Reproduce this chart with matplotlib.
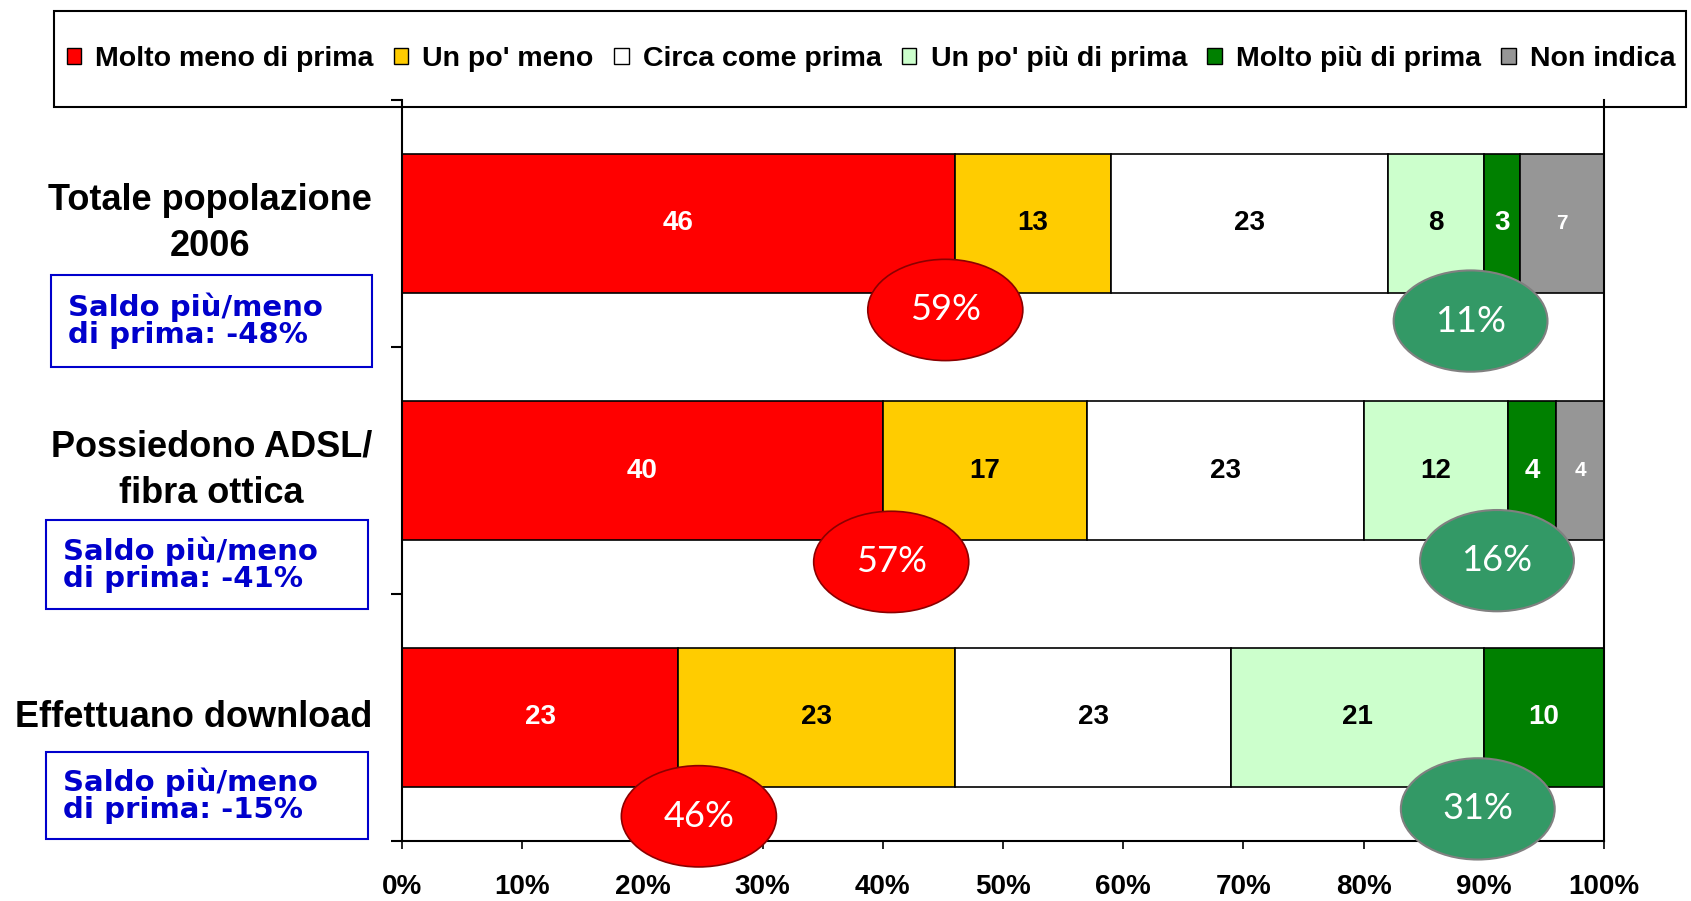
import numpy as np
import matplotlib
matplotlib.use('Agg')
import matplotlib.pyplot as plt
from matplotlib.patches import Ellipse, Rectangle, Patch
from matplotlib.transforms import blended_transform_factory

# data
categories = ['Totale popolazione\n2006', 'Possiedono ADSL/\nfibra ottica', 'Effettuano download']
series_names = ['Molto meno di prima', "Un po' meno", 'Circa come prima',
                "Un po' più di prima", 'Molto più di prima', 'Non indica']
molto_meno = [46, 40, 23]
un_po_meno = [13, 17, 23]
circa_come = [23, 23, 23]
un_po_piu = [8, 12, 21]
molto_piu = [3, 4, 10]
non_indica = [7, 4, 0]
x_ticks = list(range(0, 101, 10))

series = [molto_meno, un_po_meno, circa_come, un_po_piu, molto_piu, non_indica]
colors = ['#FF0000', '#FFCC00', '#FFFFFF', '#CCFFCC', '#008000', '#969696']
text_colors = ['white', 'black', 'black', 'black', 'white', 'white']
label_sizes = [20, 20, 20, 20, 20, 15]

# small layout nudges for the ellipses (relative to segment boundaries)
meno_dx = [-0.8, 0.7, 1.7]
meno_dy = [0.35, 0.37, 0.40]
piu_dx = [-1.1, -0.9, -0.5]
piu_dy = [0.395, 0.365, 0.37]

plt.rcParams['font.family'] = ['Liberation Sans', 'DejaVu Sans']

W, H = 1691, 901
fig = plt.figure(figsize=(W / 100, H / 100), dpi=100)
ax = fig.add_axes([402 / W, 60 / H, 1202 / W, 741 / H])

y = np.arange(len(categories)) + 0.5
left = np.zeros(len(categories))
for vals, c, tc, fs in zip(series, colors, text_colors, label_sizes):
    vals = np.array(vals, dtype=float)
    ax.barh(y, vals, left=left, height=0.56, color=c, edgecolor='black', linewidth=1.2, zorder=2)
    for yi, v, l in zip(y, vals, left):
        if v > 0:
            ax.text(l + v / 2, yi, f'{v:.0f}', ha='center', va='center', color=tc,
                    fontsize=fs, fontweight='bold', zorder=3)
    left += vals

# summary ellipses: meno = first two, più = fourth and fifth
meno = np.array(molto_meno) + np.array(un_po_meno)
piu = np.array(un_po_piu) + np.array(molto_piu)
saldo = piu - meno
red_end = np.array(molto_meno)
lgreen_end = np.array(molto_meno) + np.array(un_po_meno) + np.array(circa_come) + np.array(un_po_piu)

for i, yi in enumerate(y):
    cx, cy = red_end[i] + meno_dx[i], yi + meno_dy[i]
    ax.add_patch(Ellipse((cx, cy), 12.9, 0.41, facecolor='#FF0000', edgecolor='#8B0000',
                         linewidth=1.2, zorder=5, clip_on=False))
    ax.text(cx, cy, f'{meno[i]}%', ha='center', va='center', color='white',
            fontsize=26, family='Lato', zorder=6)
    cx, cy = lgreen_end[i] + piu_dx[i], yi + piu_dy[i]
    ax.add_patch(Ellipse((cx, cy), 12.8, 0.41, facecolor='#339966', edgecolor='#808080',
                         linewidth=1.5, zorder=5, clip_on=False))
    ax.text(cx, cy, f'{piu[i]}%', ha='center', va='center', color='white',
            fontsize=26, family='Lato', zorder=6)

ax.set_xlim(0, 100)
ax.set_ylim(3, 0)
ax.set_xticks(x_ticks)
ax.set_xticklabels([f'{v}%' for v in x_ticks], fontsize=20, fontweight='bold')
ax.set_yticks([0, 1, 2, 3])
ax.set_yticklabels([])
ax.tick_params(axis='x', direction='out', length=6, width=1.2, pad=18)
ax.tick_params(axis='y', direction='out', length=8, width=1.5)
ax.spines['top'].set_visible(False)
for s in ['left', 'bottom', 'right']:
    ax.spines[s].set_linewidth(1.5)

# category labels and blue "saldo" boxes on the left
trans = blended_transform_factory(fig.transFigure, ax.transData)
box_spans = [(0.21, 0.58), (0.20, 0.56), (0.14, 0.49)]
box_x = [(51, 372), (46, 368), (46, 368)]
for i, (cat, yi) in enumerate(zip(categories, y)):
    ax.text(372 / W, yi, cat, transform=trans, ha='right', va='center', multialignment='center',
            fontsize=26, fontweight='bold', linespacing=1.42)
    x0, x1 = box_x[i]
    b0, b1 = box_spans[i]
    rect = Rectangle((x0 / W, yi + b0), (x1 - x0) / W, b1 - b0, transform=trans, fill=False,
                     edgecolor='#0000CC', linewidth=1.5, clip_on=False)
    ax.add_patch(rect)
    ax.text((x0 + 17) / W, yi + (b0 + b1) / 2, f'Saldo più/meno\ndi prima: {saldo[i]}%',
            transform=trans, ha='left', va='center', color='#0000CC', fontsize=21,
            fontweight='bold', family='DejaVu Sans', linespacing=0.95)

# legend in a box across the top
fig.add_artist(Rectangle((54 / W, 1 - 107 / H), (1686 - 54) / W, (107 - 11) / H,
                         transform=fig.transFigure, fill=False, edgecolor='black', linewidth=1.5))
handles = [Patch(facecolor=c, edgecolor='black', linewidth=1) for c in colors]
fig.legend(handles, series_names, loc='center', bbox_to_anchor=(871 / W, 1 - 59 / H), ncol=6,
           frameon=False, prop={'size': 20.5, 'weight': 'bold'}, handlelength=0.5, handleheight=0.5,
           handletextpad=0.5, columnspacing=0.72, borderpad=0)

fig.savefig('out.png', dpi=100)
